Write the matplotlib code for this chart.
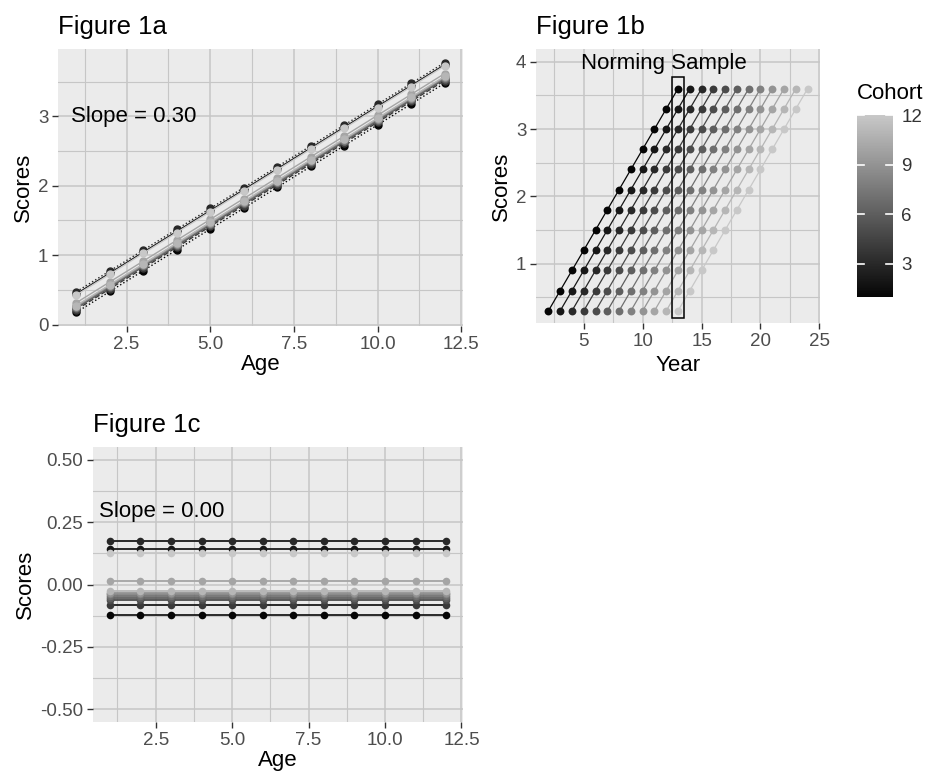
import numpy as np
import matplotlib
matplotlib.use("Agg")
import matplotlib.pyplot as plt
from matplotlib.colors import LinearSegmentedColormap, Normalize
from matplotlib.patches import Rectangle
from matplotlib.cm import ScalarMappable

plt.rcParams['font.family'] = ['Liberation Sans', 'DejaVu Sans']

# data
ages = [1, 2, 3, 4, 5, 6, 7, 8, 9, 10, 11, 12]
cohorts = [1, 2, 3, 4, 5, 6, 7, 8, 9, 10, 11, 12]
score_by_age = [0.3, 0.6, 0.9, 1.2, 1.5, 1.8, 2.1, 2.4, 2.7, 3.0, 3.3, 3.6]
cohort_first_year = [2, 3, 4, 5, 6, 7, 8, 9, 10, 11, 12, 13]
# cohort offsets
cohort_offsets = [-0.122, 0.143, 0.174, -0.084, -0.062, -0.055,
                  -0.048, -0.040, -0.033, 0.016, -0.025, 0.127]
norming_year = 13

BG = "#ebebeb"
GRID = "#c6c6c6"
TICK_FS = 13.5
LAB_FS = 16
cmap = LinearSegmentedColormap.from_list("coh", ["#050505", "#c8c8c8"])
norm = Normalize(vmin=1, vmax=12)


def style_axes(ax, xmaj, xmin, ymaj, ymin):
    ax.set_facecolor(BG)
    for s in ax.spines.values():
        s.set_visible(False)
    ax.set_xticks(xmaj)
    ax.set_xticks(xmin, minor=True)
    ax.set_yticks(ymaj)
    ax.set_yticks(ymin, minor=True)
    ax.grid(which="major", color=GRID, lw=1.1)
    ax.grid(which="minor", color=GRID, lw=0.8)
    ax.set_axisbelow(True)
    ax.tick_params(which="major", length=4, width=1, color="#333333",
                   labelcolor="#4d4d4d", labelsize=TICK_FS, pad=3)
    ax.tick_params(which="minor", length=0)


fig = plt.figure(figsize=(9.28, 7.82), dpi=100)

# Figure 1a
ax1 = fig.add_axes([0.0625, 0.5831, 0.4364, 0.3542])
lstyles = [":", "-", ":", "--", "-", "-", "-", "-", "-", "-", "-", "-"]
for i, c in enumerate(cohorts):
    ys = [s + cohort_offsets[i] for s in score_by_age]
    ax1.plot(ages, ys, color=cmap(norm(c)), lw=1.0, ls=lstyles[i],
             marker="o", ms=5, mec=cmap(norm(c)))
ax1.set_xlim(0.45, 12.55)
ax1.set_ylim(-0.02, 3.97)
style_axes(ax1, [2.5, 5.0, 7.5, 10.0, 12.5], [1.25, 3.75, 6.25, 8.75, 11.25],
           [0, 1, 2, 3], [0.5, 1.5, 2.5, 3.5])
ax1.set_xticklabels(["2.5", "5.0", "7.5", "10.0", "12.5"])
ax1.set_xlabel("Age", fontsize=LAB_FS, labelpad=1)
ax1.set_ylabel("Scores", fontsize=LAB_FS, labelpad=3)
ax1.text(2.72, 3.0, "Slope = 0.30", fontsize=16, ha="center", va="center")
ax1.set_title("Figure 1a", fontsize=18.5, loc="left", pad=11)

# Figure 1b
ax2 = fig.add_axes([0.5776, 0.587, 0.306, 0.3504])
for i, c in enumerate(cohorts):
    yrs = [cohort_first_year[i] + a - 1 for a in ages]
    col = cmap(norm(c))
    ax2.plot(yrs, score_by_age, color=col, lw=0.9, zorder=2)
    ax2.scatter(yrs, score_by_age, color=col, s=32, zorder=3, linewidths=0)
ax2.add_patch(Rectangle((norming_year - 0.5, 0.2), 1.0, 3.58, fill=False,
                        ec="black", lw=1.1, zorder=4))
ax2.text(11.8, 3.97, "Norming Sample", fontsize=16, ha="center", va="center")
ax2.set_xlim(0.95, 25.05)
ax2.set_ylim(0.12, 4.19)
style_axes(ax2, [5, 10, 15, 20, 25], [2.5, 7.5, 12.5, 17.5, 22.5],
           [1, 2, 3, 4], [0.5, 1.5, 2.5, 3.5])
ax2.set_xlabel("Year", fontsize=LAB_FS, labelpad=4)
ax2.set_ylabel("Scores", fontsize=LAB_FS, labelpad=3)
ax2.set_title("Figure 1b", fontsize=18.5, loc="left", pad=11)

# colorbar
cax = fig.add_axes([0.9235, 0.6202, 0.0388, 0.2327])
cb = fig.colorbar(ScalarMappable(norm=norm, cmap=cmap), cax=cax)
cb.outline.set_visible(False)
cb.set_ticks([3, 6, 9, 12])
cax.tick_params(length=0, labelsize=TICK_FS, labelcolor="#333333", pad=6)
for t in [3, 6, 9, 12]:
    cax.plot([0, 0.2], [t, t], color="white", lw=1.2, transform=cax.get_yaxis_transform())
    cax.plot([0.8, 1.0], [t, t], color="white", lw=1.2, transform=cax.get_yaxis_transform())
cax.text(0.0, 1.06, "Cohort", fontsize=16, ha="left", va="bottom",
         transform=cax.transAxes)

# Figure 1c
ax3 = fig.add_axes([0.1002, 0.0767, 0.3987, 0.3517])
for i, c in enumerate(cohorts):
    ys = [cohort_offsets[i]] * len(ages)
    col = cmap(norm(c))
    ax3.plot(ages, ys, color="#1a1a1a" if c in (1, 2, 3, 4) else col, lw=1.3, zorder=2)
    ax3.scatter(ages, ys, color=col, s=30, zorder=3, linewidths=0)
ax3.set_xlim(0.45, 12.55)
ax3.set_ylim(-0.552, 0.552)
style_axes(ax3, [2.5, 5.0, 7.5, 10.0, 12.5], [1.25, 3.75, 6.25, 8.75, 11.25],
           [-0.5, -0.25, 0, 0.25, 0.5], [-0.375, -0.125, 0.125, 0.375])
ax3.set_xticklabels(["2.5", "5.0", "7.5", "10.0", "12.5"])
ax3.set_yticklabels(["-0.50", "-0.25", "0.00", "0.25", "0.50"])
ax3.set_xlabel("Age", fontsize=LAB_FS, labelpad=1)
ax3.set_ylabel("Scores", fontsize=LAB_FS, labelpad=3)
ax3.text(2.69, 0.295, "Slope = 0.00", fontsize=16, ha="center", va="center")
ax3.set_title("Figure 1c", fontsize=18.5, loc="left", pad=11)

fig.savefig("out.png", dpi=100)
